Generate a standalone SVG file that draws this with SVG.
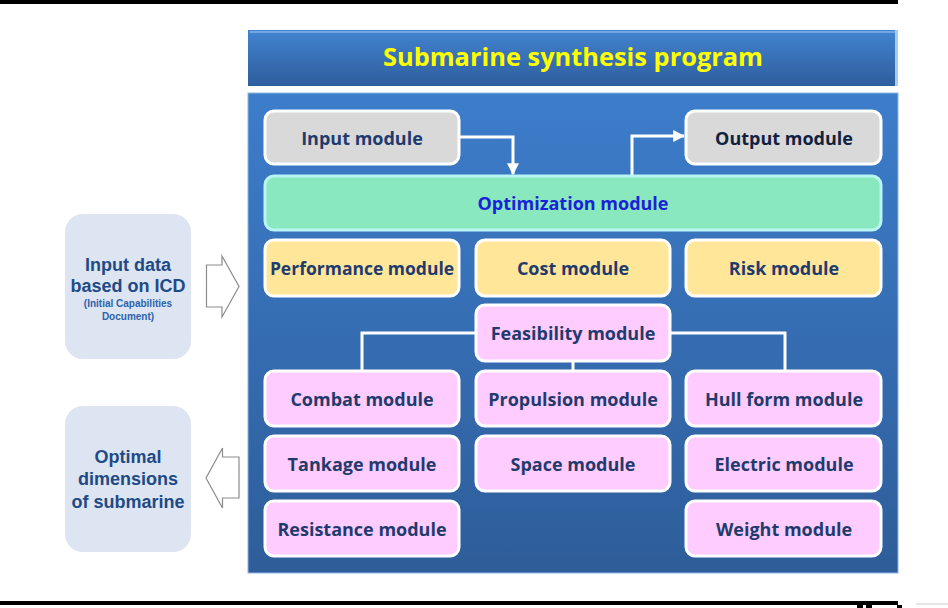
<svg xmlns="http://www.w3.org/2000/svg" width="948" height="608" viewBox="0 0 948 608">
  <defs>
    <linearGradient id="gPanel" x1="0" y1="0" x2="0" y2="1">
      <stop offset="0" stop-color="#3d7dcb"/>
      <stop offset="1" stop-color="#2e5d99"/>
    </linearGradient>
    <linearGradient id="gTitle" x1="0" y1="0" x2="0" y2="1">
      <stop offset="0" stop-color="#4283d0"/>
      <stop offset="1" stop-color="#2e5e9c"/>
    </linearGradient>
    <marker id="arrow" viewBox="0 0 10 10" refX="9" refY="5" markerWidth="4" markerHeight="4" orient="auto" markerUnits="strokeWidth">
      <path d="M0,0 L10,5 L0,10 z" fill="#ffffff"/>
    </marker>
  </defs>
  <style>
    .mod { stroke: #ffffff; stroke-width: 3; }
    .gray { fill: #d9d9d9; }
    .yellow { fill: #ffe699; }
    .pink { fill: #ffccff; }
    .lbl { font-family: "Open Sans", "Noto Sans", sans-serif; font-weight: 700; font-size: 18px; fill: #1f3b6e; text-anchor: middle; }
    .side { fill: #dce5f1; }
    .sidetxt { font-family: "Liberation Sans", Arial, sans-serif; font-weight: 700; font-size: 18px; fill: #1f4a86; text-anchor: middle; }
    .small { font-size: 10px; fill: #2e62ad; }
    .link { fill: none; stroke: #ffffff; stroke-width: 3; }
    .hollow { fill: #ffffff; stroke: #8c8c8c; stroke-width: 1.2; }
  </style>

  <rect width="948" height="608" fill="#ffffff"/>

  <!-- page rules -->
  <rect x="0" y="0" width="898" height="4" fill="#000000"/>
  <rect x="0" y="601" width="898" height="4" fill="#000000"/>
  <rect x="857" y="605" width="6" height="3" fill="#000000"/>
  <rect x="866" y="605" width="6" height="3" fill="#000000"/>
  <rect x="897" y="605" width="5" height="3" fill="#000000"/>
  <rect x="916" y="603" width="32" height="2" fill="#e6e6e6"/>

  <!-- title bar -->
  <g id="title">
    <rect x="248" y="30" width="650" height="56" fill="url(#gTitle)"/>
    <rect x="250" y="31" width="646" height="2" fill="#7fb0ea" opacity="0.8"/>
    <rect x="895" y="30" width="3" height="56" fill="#a8cdf5"/>
    <text x="573" y="66" font-family="'Open Sans', 'Noto Sans', sans-serif" font-weight="700" font-size="25.4" fill="#ffff00" text-anchor="middle">Submarine synthesis program</text>
  </g>

  <!-- main panel -->
  <g id="panel">
    <rect x="248" y="93" width="650" height="480" fill="url(#gPanel)" stroke="#8fb4e2" stroke-width="1"/>
  </g>

  <!-- connectors -->
  <g id="connectors">
    <polyline class="link" points="459,137 513,137 513,174" marker-end="url(#arrow)"/>
    <polyline class="link" points="632,176 632,136 684,136" marker-end="url(#arrow)"/>
    <polyline class="link" points="476,333 362,333 362,371"/>
    <polyline class="link" points="670,333 785,333 785,371"/>
    <line class="link" x1="573" y1="361" x2="573" y2="371"/>
  </g>

  <g id="input-module">
    <rect class="mod gray" x="265" y="111" width="194" height="53" rx="9"/>
    <text class="lbl" x="362" y="144.5">Input module</text>
  </g>
  <g id="output-module">
    <rect class="mod gray" x="686" y="111" width="195" height="53" rx="9"/>
    <text class="lbl" x="784" y="144.5" style="fill:#12213f">Output module</text>
  </g>
  <g id="optimization-module">
    <rect x="265" y="176" width="616" height="54" rx="9" fill="#8ae8bf" stroke="#b8f6f4" stroke-width="3"/>
    <text class="lbl" x="573" y="210" style="fill:#1a22d8">Optimization module</text>
  </g>

  <g id="performance-module">
    <rect class="mod yellow" x="265" y="240" width="194" height="56" rx="9"/>
    <text class="lbl" x="362" y="275" style="font-size:17.5px">Performance module</text>
  </g>
  <g id="cost-module">
    <rect class="mod yellow" x="476" y="240" width="194" height="56" rx="9"/>
    <text class="lbl" x="573" y="275">Cost module</text>
  </g>
  <g id="risk-module">
    <rect class="mod yellow" x="686" y="240" width="195" height="56" rx="9"/>
    <text class="lbl" x="784" y="275">Risk module</text>
  </g>

  <g id="feasibility-module">
    <rect class="mod pink" x="476" y="305" width="194" height="56" rx="9"/>
    <text class="lbl" x="573" y="340">Feasibility module</text>
  </g>

  <g id="combat-module">
    <rect class="mod pink" x="265" y="371" width="194" height="55" rx="9"/>
    <text class="lbl" x="362" y="405.5">Combat module</text>
  </g>
  <g id="propulsion-module">
    <rect class="mod pink" x="476" y="371" width="194" height="55" rx="9"/>
    <text class="lbl" x="573" y="405.5">Propulsion module</text>
  </g>
  <g id="hull-form-module">
    <rect class="mod pink" x="686" y="371" width="195" height="55" rx="9"/>
    <text class="lbl" x="784" y="405.5">Hull form module</text>
  </g>

  <g id="tankage-module">
    <rect class="mod pink" x="265" y="436" width="194" height="55" rx="9"/>
    <text class="lbl" x="362" y="470.5">Tankage module</text>
  </g>
  <g id="space-module">
    <rect class="mod pink" x="476" y="436" width="194" height="55" rx="9"/>
    <text class="lbl" x="573" y="470.5">Space module</text>
  </g>
  <g id="electric-module">
    <rect class="mod pink" x="686" y="436" width="195" height="55" rx="9"/>
    <text class="lbl" x="784" y="470.5">Electric module</text>
  </g>

  <g id="resistance-module">
    <rect class="mod pink" x="265" y="501" width="194" height="55" rx="9"/>
    <text class="lbl" x="362" y="535.5">Resistance module</text>
  </g>
  <g id="weight-module">
    <rect class="mod pink" x="686" y="501" width="195" height="55" rx="9"/>
    <text class="lbl" x="784" y="535.5">Weight module</text>
  </g>

  <!-- side blocks -->
  <g id="input-data">
    <rect class="side" x="65" y="214" width="126" height="145" rx="18"/>
    <text class="sidetxt" x="128" y="271">Input data</text>
    <text class="sidetxt" x="128" y="292">based on ICD</text>
    <text class="sidetxt small" x="128" y="307">(Initial Capabilities</text>
    <text class="sidetxt small" x="128" y="320">Document)</text>
  </g>
  <g id="input-arrow">
    <path class="hollow" d="M206.5,265 L222,265 L222,256 L239,286.5 L222,317 L222,307 L206.5,307 Z"/>
  </g>

  <g id="optimal-dimensions">
    <rect class="side" x="65" y="406" width="126" height="146" rx="18"/>
    <text class="sidetxt" x="128" y="463">Optimal</text>
    <text class="sidetxt" x="128" y="485">dimensions</text>
    <text class="sidetxt" x="128" y="508">of submarine</text>
  </g>
  <g id="output-arrow">
    <path class="hollow" d="M239,457 L222.5,457 L222.5,448 L206,478 L222.5,508 L222.5,498 L239,498 Z"/>
  </g>
</svg>
